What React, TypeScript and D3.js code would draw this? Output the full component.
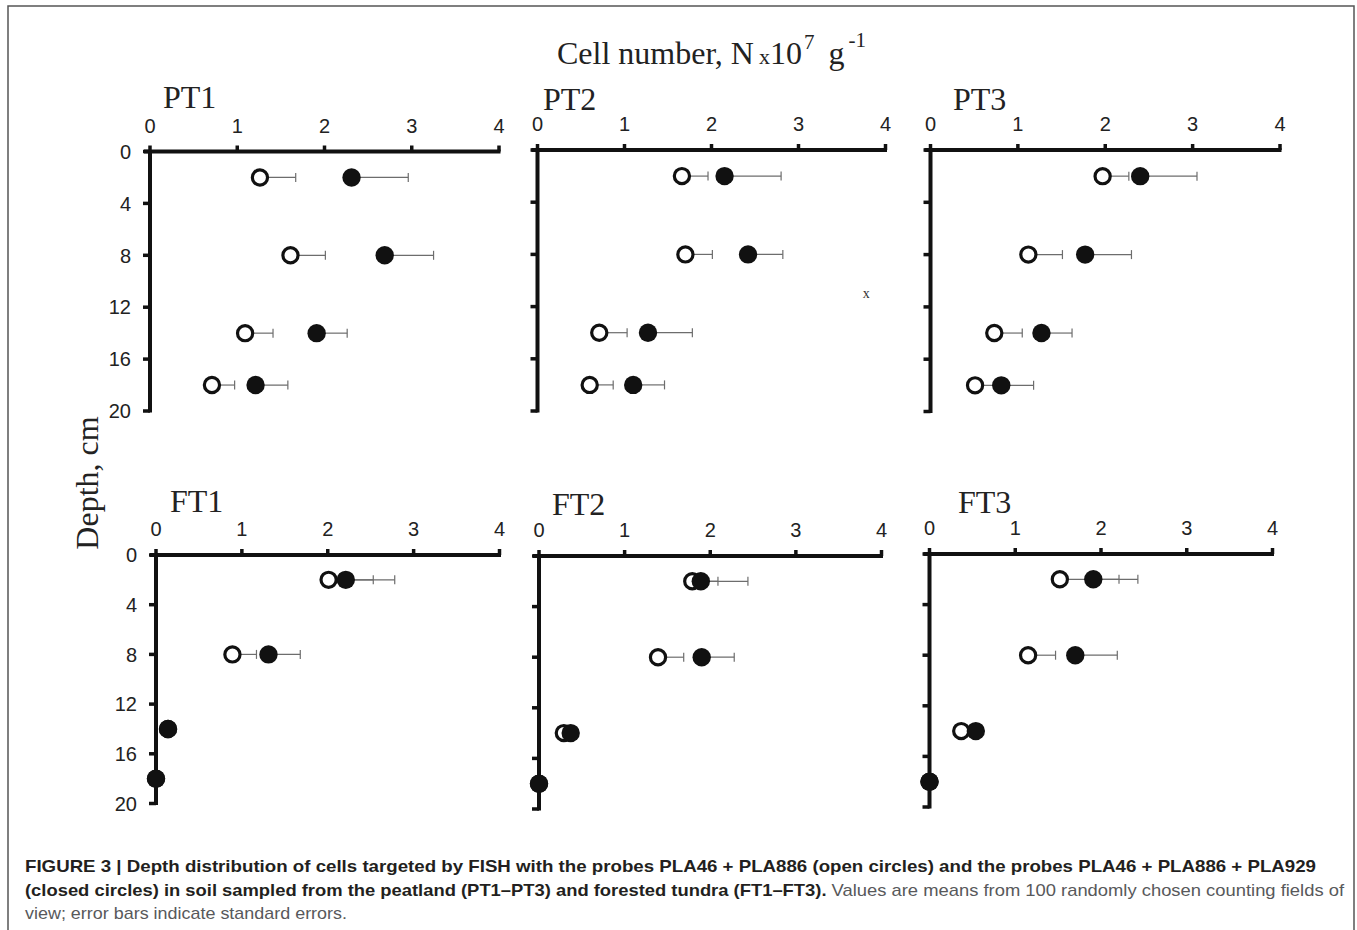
import React from "react";
import * as d3 from "d3";

// ---------- DATA ----------
const depths = [2, 8, 14, 18];
const panelNames = ["PT1", "PT2", "PT3", "FT1", "FT2", "FT3"];

// open circles: PLA46 + PLA886 ; closed circles: PLA46 + PLA886 + PLA929
const openPT1 = [1.26, 1.61, 1.09, 0.71];
const openErrPT1 = [0.41, 0.4, 0.32, 0.26];
const closedPT1 = [2.31, 2.69, 1.91, 1.21];
const closedErrPT1 = [0.65, 0.56, 0.35, 0.37];

const openPT2 = [1.66, 1.7, 0.71, 0.6];
const openErrPT2 = [0.3, 0.31, 0.32, 0.27];
const closedPT2 = [2.15, 2.42, 1.27, 1.1];
const closedErrPT2 = [0.65, 0.4, 0.51, 0.36];

const openPT3 = [1.97, 1.12, 0.73, 0.51];
const openErrPT3 = [0.3, 0.39, 0.32, 0.25];
const closedPT3 = [2.4, 1.77, 1.27, 0.81];
const closedErrPT3 = [0.65, 0.53, 0.35, 0.37];

const openFT1 = [2.01, 0.89, 0.14, 0.0];
const openErrFT1 = [0.52, 0.28, 0, 0];
const closedFT1 = [2.21, 1.31, 0.14, 0.0];
const closedErrFT1 = [0.57, 0.37, 0, 0];

const openFT2 = [1.79, 1.39, 0.29, 0.0];
const openErrFT2 = [0.3, 0.3, 0, 0];
const closedFT2 = [1.89, 1.9, 0.37, 0.0];
const closedErrFT2 = [0.55, 0.38, 0, 0];

const openFT3 = [1.52, 1.15, 0.37, 0.0];
const openErrFT3 = [0.69, 0.32, 0, 0];
const closedFT3 = [1.91, 1.7, 0.54, 0.0];
const closedErrFT3 = [0.52, 0.49, 0, 0];

const xTicks = [0, 1, 2, 3, 4];
const yTicks = [0, 4, 8, 12, 16, 20];

// stray mark visible in the PT2 panel
const strayMark = { panel: "PT2", value: 3.78, depth: 11, label: "x" };

const titleMain = "Cell number, N";
const captionLine1 =
  "FIGURE 3 | Depth distribution of cells targeted by FISH with the probes PLA46 + PLA886 (open circles) and the probes PLA46 + PLA886 + PLA929";
const captionLine2Bold =
  "(closed circles) in soil sampled from the peatland (PT1–PT3) and forested tundra (FT1–FT3).";
const captionLine2Reg = " Values are means from 100 randomly chosen counting fields of";
const captionLine3 = "view; error bars indicate standard errors.";

const seriesTable = [
  { open: openPT1, openErr: openErrPT1, closed: closedPT1, closedErr: closedErrPT1 },
  { open: openPT2, openErr: openErrPT2, closed: closedPT2, closedErr: closedErrPT2 },
  { open: openPT3, openErr: openErrPT3, closed: closedPT3, closedErr: closedErrPT3 },
  { open: openFT1, openErr: openErrFT1, closed: closedFT1, closedErr: closedErrFT1 },
  { open: openFT2, openErr: openErrFT2, closed: closedFT2, closedErr: closedErrFT2 },
  { open: openFT3, openErr: openErrFT3, closed: closedFT3, closedErr: closedErrFT3 },
];

// ---------- LAYOUT ----------
const layout = [
  { x0: 150, x1: 499, y0: 151.5, y1: 411, tx: 163, ty: 108, labels: true },
  { x0: 537.5, x1: 885.5, y0: 150, y1: 411, tx: 543, ty: 110, labels: false },
  { x0: 930.5, x1: 1280, y0: 150, y1: 411.5, tx: 953, ty: 110, labels: false },
  { x0: 156, x1: 499.5, y0: 555, y1: 803.5, tx: 170, ty: 512, labels: true },
  { x0: 539, x1: 881.5, y0: 556, y1: 809, tx: 552, ty: 515, labels: false },
  { x0: 929.5, x1: 1272.5, y0: 554, y1: 807, tx: 958, ty: 513, labels: false },
];

const SERIF = "'Liberation Serif', 'Times New Roman', serif";
const SANS = "'Liberation Sans', Arial, Helvetica, sans-serif";

function Panel({ idx }: { idx: number }) {
  const L = layout[idx];
  const s = seriesTable[idx];
  const x = d3.scaleLinear().domain([0, 4]).range([L.x0, L.x1]);
  const y = d3.scaleLinear().domain([0, 20]).range([L.y0, L.y1]);
  const rClosed = 9.2;
  const rOpen = 7.6;
  const errColor = "#6d6d6d";
  const capH = 4.5;
  return (
    <g>
      <text x={L.tx} y={L.ty} fontFamily={SERIF} fontSize={32} fill="#222">
        {panelNames[idx]}
      </text>
      {/* x axis */}
      <line x1={x(0) - 6} x2={x(4) + 1.5} y1={y(0)} y2={y(0)} stroke="#111" strokeWidth={4} />
      {xTicks.map((t) => (
        <g key={"xt" + t}>
          <line x1={x(t)} x2={x(t)} y1={y(0)} y2={y(0) - 6} stroke="#111" strokeWidth={3.5} />
          <text x={x(t)} y={y(0) - 19} textAnchor="middle" fontFamily={SANS} fontSize={20} fill="#222">
            {t}
          </text>
        </g>
      ))}
      {/* y axis */}
      <line x1={x(0)} x2={x(0)} y1={y(0)} y2={y(20) + 1.5} stroke="#111" strokeWidth={4} />
      {yTicks.map((t) => (
        <g key={"yt" + t}>
          <line x1={x(0)} x2={x(0) - 7} y1={y(t)} y2={y(t)} stroke="#111" strokeWidth={3.5} />
          {L.labels && (
            <text
              x={x(0) - 19}
              y={y(t)}
              dy="0.36em"
              textAnchor="end"
              fontFamily={SANS}
              fontSize={20}
              fill="#222"
            >
              {t}
            </text>
          )}
        </g>
      ))}
      {/* error bars */}
      {depths.map((d, i) => (
        <g key={"e" + i}>
          {s.openErr[i] > 0 && (
            <g>
              <line x1={x(s.open[i])} x2={x(s.open[i] + s.openErr[i])} y1={y(d)} y2={y(d)} stroke={errColor} strokeWidth={1.2} />
              <line x1={x(s.open[i] + s.openErr[i])} x2={x(s.open[i] + s.openErr[i])} y1={y(d) - capH} y2={y(d) + capH} stroke={errColor} strokeWidth={1.2} />
            </g>
          )}
          {s.closedErr[i] > 0 && (
            <g>
              <line x1={x(s.closed[i])} x2={x(s.closed[i] + s.closedErr[i])} y1={y(d)} y2={y(d)} stroke={errColor} strokeWidth={1.2} />
              <line x1={x(s.closed[i] + s.closedErr[i])} x2={x(s.closed[i] + s.closedErr[i])} y1={y(d) - capH} y2={y(d) + capH} stroke={errColor} strokeWidth={1.2} />
            </g>
          )}
        </g>
      ))}
      {/* open circles */}
      {depths.map((d, i) => (
        <circle key={"o" + i} cx={x(s.open[i])} cy={y(d)} r={rOpen} fill="#fff" stroke="#111" strokeWidth={3.2} />
      ))}
      {/* closed circles */}
      {depths.map((d, i) => (
        <circle key={"c" + i} cx={x(s.closed[i])} cy={y(d)} r={rClosed} fill="#111" />
      ))}
      {strayMark.panel === panelNames[idx] && (
        <text x={x(strayMark.value)} y={y(strayMark.depth)} dy="0.3em" textAnchor="middle" fontFamily={SERIF} fontSize={14} fill="#333">
          {strayMark.label}
        </text>
      )}
    </g>
  );
}

export default function App() {
  const W = 1357;
  const H = 930;
  return (
    <svg
      width={W}
      height={H}
      viewBox={`0 0 ${W} ${H}`}
      style={{ position: "absolute", left: 0, top: 0, background: "#fff" }}
    >
      <rect x={0} y={0} width={W} height={H} fill="#fff" />
      <rect x={8} y={6} width={1346} height={H + 10} fill="none" stroke="#555" strokeWidth={1.5} />
      {/* main title */}
      <text x={557} y={64} fontFamily={SERIF} fontSize={32} fill="#222">
        {titleMain}
        <tspan fontSize={22} dx={5}>x</tspan>
        <tspan>10</tspan>
        <tspan fontSize={21} dy={-15} dx={2}>7</tspan>
        <tspan dy={15} dx={14}>g</tspan>
        <tspan fontSize={21} dy={-17} dx={4}>-1</tspan>
      </text>
      {/* y axis label */}
      <text
        transform="translate(98,483) rotate(-90)"
        textAnchor="middle"
        fontFamily={SERIF}
        fontSize={32}
        fill="#222"
      >
        Depth, cm
      </text>
      {panelNames.map((_, i) => (
        <Panel key={i} idx={i} />
      ))}
      {/* caption */}
      <text
        x={25}
        y={872}
        fontFamily={SANS}
        fontSize={17}
        fontWeight="bold"
        fill="#231f20"
        textLength={1291}
        lengthAdjust="spacingAndGlyphs"
      >
        {captionLine1}
      </text>
      <text
        x={25}
        y={896}
        fontFamily={SANS}
        fontSize={17}
        fill="#58595b"
        textLength={1319}
        lengthAdjust="spacingAndGlyphs"
      >
        <tspan fontWeight="bold" fill="#231f20">{captionLine2Bold}</tspan>
        <tspan>{captionLine2Reg}</tspan>
      </text>
      <text
        x={25}
        y={919}
        fontFamily={SANS}
        fontSize={17}
        fill="#58595b"
        textLength={322}
        lengthAdjust="spacingAndGlyphs"
      >
        {captionLine3}
      </text>
    </svg>
  );
}
